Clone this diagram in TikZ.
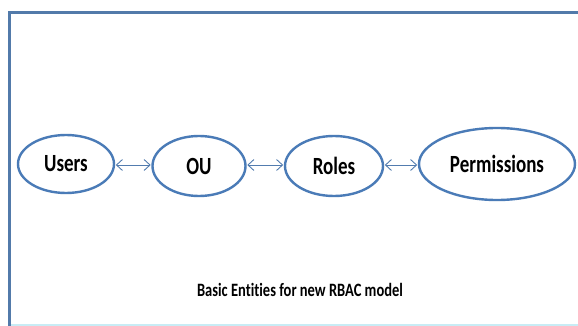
\documentclass[tikz,border=0pt]{standalone}
\usepackage{fontspec}
\setmainfont{Carlito}[Ligatures=NoCommon]
\usetikzlibrary{arrows.meta,shapes.geometric}
\definecolor{ebl}{RGB}{74,123,183}
\definecolor{fbl}{RGB}{82,122,170}
\definecolor{cyl}{RGB}{200,236,245}
\newcommand{\tallt}[1]{\scalebox{1}[1.3]{#1}}
\tikzset{
  ent/.style={ellipse, draw=ebl, line width=2.4pt, fill=white, inner sep=0pt, font=\bfseries\fontsize{19}{21}\selectfont},
  link/.style={draw=ebl!85!gray, line width=0.9pt, {Straight Barb[length=6pt,width=11pt]}-{Straight Barb[length=6pt,width=11pt]}, shorten <=0.6pt, shorten >=0.6pt}
}
\begin{document}
\begin{tikzpicture}[x=1pt,y=-1pt]
\useasboundingbox (0,0) rectangle (578,326);
\fill[white] (0,0) rectangle (578,326);
\draw[cyl, line width=1.5pt] (9,325) -- (578,325);
\draw[fbl, line width=3pt] (9,326) -- (9,13) -- (578,13);
\node[ent, minimum width=96pt, minimum height=58pt] (users) at (66,164) {\tallt{Users}};
\node[ent, minimum width=93pt, minimum height=60pt] (ou) at (199,166) {\tallt{OU}};
\node[ent, minimum width=98pt, minimum height=60pt] (roles) at (334,166) {\tallt{Roles}};
\node[ent, minimum width=156pt, minimum height=72pt] (perm) at (497,164) {\tallt{Permissions}};
\draw[link] (users.east |- 0,165) -- (ou.west |- 0,165);
\draw[link] (ou.east |- 0,165) -- (roles.west |- 0,165);
\draw[link] (roles.east |- 0,165) -- (perm.west |- 0,165);
\node[font=\bfseries\fontsize{14.5}{16}\selectfont, inner sep=0pt] (cap) at (300,290) {\tallt{Basic Entities for new RBAC model}};
\end{tikzpicture}
\end{document}
